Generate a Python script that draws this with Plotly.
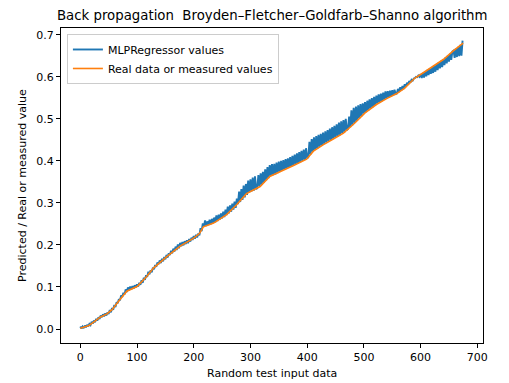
import plotly.graph_objects as go

# Real (sorted measured) values, read at anchor positions
real_x = [0, 15, 23, 35, 47, 56, 70, 82, 100, 117, 129, 153, 176, 200, 210, 217, 235, 258,
          276, 293, 317, 334, 352, 376, 399, 411, 428, 446, 464, 484, 502, 522, 540, 558,
          572, 590, 604, 622, 640, 657, 675]
real_y = [0.002, 0.008, 0.016, 0.028, 0.036, 0.046, 0.070, 0.090, 0.101, 0.125, 0.145, 0.173,
          0.197, 0.216, 0.227, 0.243, 0.252, 0.272, 0.296, 0.322, 0.339, 0.363, 0.374, 0.389,
          0.404, 0.423, 0.438, 0.452, 0.466, 0.490, 0.514, 0.534, 0.548, 0.560, 0.573, 0.597,
          0.609, 0.625, 0.641, 0.661, 0.680]

# MLPRegressor predictions, read every 2 samples (x = 0, 2, ..., 674)
pred_x = list(range(0, 676, 2))
pred_y = [
    0.006, 0.001, 0.006, 0.002, 0.008, 0.004, 0.010, 0.006, 0.012, 0.009,
    0.017, 0.013, 0.020, 0.016, 0.024, 0.020, 0.028, 0.024, 0.032, 0.028,
    0.035, 0.030, 0.037, 0.032, 0.040, 0.036, 0.045, 0.040, 0.050, 0.046,
    0.057, 0.052, 0.064, 0.061, 0.071, 0.068, 0.080, 0.076, 0.086, 0.082,
    0.094, 0.088, 0.099, 0.092, 0.101, 0.094, 0.102, 0.096, 0.104, 0.099,
    0.106, 0.101, 0.110, 0.105, 0.116, 0.110, 0.122, 0.117, 0.128, 0.124,
    0.136, 0.130, 0.140, 0.135, 0.146, 0.142, 0.152, 0.148, 0.158, 0.154,
    0.163, 0.157, 0.167, 0.161, 0.171, 0.166, 0.176, 0.170, 0.180, 0.176,
    0.186, 0.180, 0.191, 0.184, 0.196, 0.188, 0.201, 0.192, 0.205, 0.197,
    0.207, 0.199, 0.209, 0.202, 0.211, 0.204, 0.214, 0.208, 0.217, 0.212,
    0.221, 0.215, 0.224, 0.218, 0.227, 0.223, 0.240, 0.233, 0.251, 0.244,
    0.258, 0.245, 0.256, 0.247, 0.260, 0.249, 0.262, 0.252, 0.265, 0.254,
    0.270, 0.257, 0.272, 0.260, 0.275, 0.263, 0.279, 0.266, 0.284, 0.271,
    0.291, 0.275, 0.294, 0.279, 0.298, 0.284, 0.303, 0.288, 0.310, 0.297,
    0.327, 0.302, 0.333, 0.307, 0.341, 0.313, 0.345, 0.319, 0.353, 0.325,
    0.356, 0.327, 0.360, 0.329, 0.363, 0.333, 0.335, 0.366, 0.340, 0.370,
    0.343, 0.374, 0.348, 0.380, 0.354, 0.385, 0.359, 0.390, 0.364, 0.392,
    0.366, 0.393, 0.368, 0.396, 0.371, 0.398, 0.374, 0.400, 0.376, 0.402,
    0.379, 0.404, 0.381, 0.406, 0.384, 0.409, 0.386, 0.412, 0.389, 0.415,
    0.392, 0.418, 0.394, 0.421, 0.397, 0.424, 0.400, 0.427, 0.402, 0.430,
    0.406, 0.409, 0.445, 0.415, 0.452, 0.421, 0.456, 0.426, 0.459, 0.429,
    0.462, 0.433, 0.464, 0.436, 0.467, 0.440, 0.470, 0.443, 0.473, 0.446,
    0.477, 0.449, 0.480, 0.452, 0.483, 0.455, 0.487, 0.458, 0.491, 0.461,
    0.494, 0.465, 0.497, 0.468, 0.500, 0.473, 0.476, 0.505, 0.480, 0.520,
    0.485, 0.526, 0.490, 0.529, 0.495, 0.532, 0.501, 0.535, 0.506, 0.537,
    0.512, 0.540, 0.516, 0.543, 0.520, 0.546, 0.524, 0.549, 0.528, 0.552,
    0.532, 0.555, 0.536, 0.558, 0.539, 0.560, 0.542, 0.562, 0.545, 0.565,
    0.548, 0.566, 0.551, 0.567, 0.553, 0.568, 0.556, 0.569, 0.559, 0.560,
    0.571, 0.564, 0.575, 0.567, 0.578, 0.571, 0.582, 0.576, 0.586, 0.581,
    0.590, 0.586, 0.593, 0.591, 0.596, 0.597, 0.600, 0.599, 0.603, 0.600,
    0.606, 0.597, 0.609, 0.598, 0.612, 0.601, 0.616, 0.604, 0.619, 0.607,
    0.623, 0.609, 0.627, 0.612, 0.630, 0.616, 0.634, 0.620, 0.638, 0.623,
    0.641, 0.628, 0.646, 0.632, 0.650, 0.636, 0.655, 0.640, 0.660, 0.662,
    0.645, 0.667, 0.647, 0.671, 0.649, 0.676, 0.650, 0.686,
]

x_ticks = [0, 100, 200, 300, 400, 500, 600, 700]
y_ticks = [0.0, 0.1, 0.2, 0.3, 0.4, 0.5, 0.6, 0.7]

FONT = "DejaVu Sans"

fig = go.Figure()
fig.add_trace(go.Scatter(x=pred_x, y=pred_y, mode="lines", name="MLPRegressor values",
                         line=dict(color="#1f77b4", width=1.9, simplify=False)))
fig.add_trace(go.Scatter(x=real_x, y=real_y, mode="lines", name="Real data or measured values",
                         line=dict(color="#ff7f0e", width=1.6, simplify=False)))

axis_common = dict(showgrid=False, zeroline=False, showline=True, mirror=True,
                   linecolor="black", linewidth=1, ticks="outside", ticklen=4,
                   tickwidth=1, tickcolor="black",
                   tickfont=dict(family=FONT, size=11, color="black"))

fig.update_layout(
    width=509, height=383,
    margin=dict(l=61, r=26, t=28, b=40),
    paper_bgcolor="white", plot_bgcolor="white",
    font=dict(family=FONT, size=11, color="black"),
    showlegend=True,
    legend=dict(x=0.014, y=0.981, xanchor="left", yanchor="top",
                bgcolor="rgba(255,255,255,0.8)", bordercolor="#cccccc", borderwidth=1,
                font=dict(family=FONT, size=11, color="black"),
                tracegroupgap=0, itemwidth=30),
    xaxis=dict(range=[-34, 710], tickvals=x_ticks, **axis_common),
    yaxis=dict(range=[-0.0333, 0.716], tickvals=y_ticks, tickformat=".1f", **axis_common),
    annotations=[
        dict(text="Back propagation  Broyden\u2013Fletcher\u2013Goldfarb\u2013Shanno algorithm",
             xref="paper", yref="paper", x=0.5, y=1, yshift=13, xanchor="center",
             yanchor="middle", showarrow=False, font=dict(family=FONT, size=13.3, color="black")),
        dict(text="Random test input data", xref="paper", yref="paper", x=0.5, y=0,
             yshift=-30, xanchor="center", yanchor="middle", showarrow=False,
             font=dict(family=FONT, size=11, color="black")),
        dict(text="Predicted / Real or measured value", xref="paper", yref="paper", x=0, y=0.5,
             xshift=-38.5, xanchor="center", yanchor="middle", textangle=-90, showarrow=False,
             font=dict(family=FONT, size=11, color="black")),
    ],
)

fig.write_html("out.html", config={"displayModeBar": False},
               post_script="document.body.style.margin='0';document.body.style.overflow='hidden';")
